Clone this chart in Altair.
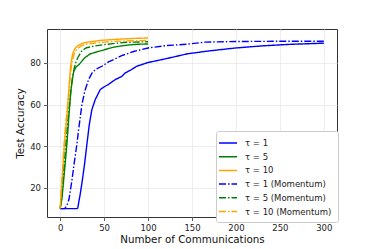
import altair as alt
import pandas as pd

labels = ["τ = 1", "τ = 5", "τ = 10",
          "τ = 1 (Momentum)", "τ = 5 (Momentum)", "τ = 10 (Momentum)"]
colors = ["#0000ff", "#008000", "#ffa500", "#0000ff", "#008000", "#ffa500"]
dashes = [[1, 0], [1, 0], [1, 0], [7, 2, 1.5, 2], [7, 2, 1.5, 2], [7, 2, 1.5, 2]]

# tau = 1
x_t1 = [0, 19, 20, 22.8, 25, 27.7, 30.4, 33, 36, 40, 45.6, 50, 55, 62.7, 70, 74, 80, 87,
        100, 120, 145, 170, 200, 230, 260, 300]
y_t1 = [10, 10, 10.3, 17, 23, 31.3, 40.9, 50, 57.5, 62.5, 67.2, 68.5, 69.7, 72, 73.5, 75.2,
        76.5, 78.4, 80.2, 82, 84.4, 85.8, 87.2, 88.2, 88.9, 89.5]
# tau = 5
x_t5 = [0, 2, 4, 6, 8, 10, 12, 14, 15.5, 18, 22, 28, 34, 40, 50, 60, 70, 80, 90, 100]
y_t5 = [10, 15, 24, 33, 43, 55, 66, 72.5, 76, 78, 79.5, 82.5, 84.3, 85.1, 86.3, 87.5, 88.2,
        88.7, 89, 89.1]
# tau = 10
x_t10 = [0, 2, 4, 6, 8, 10, 11, 12, 14, 16, 18, 20, 24, 30, 36, 45, 55, 70, 85, 100]
y_t10 = [10, 22, 36, 47, 56, 68, 74, 79, 84, 86.3, 87.5, 88.3, 89.2, 89.9, 90.3, 90.8, 91.1,
         91.5, 91.8, 92]
# tau = 1 (Momentum)
x_m1 = [0, 5, 7.6, 10, 13.3, 16, 19, 21, 24.7, 28, 32.3, 36, 40, 47.5, 55, 60.8, 70, 83.6,
        100, 120, 144, 165, 200, 250, 300]
y_m1 = [10, 10, 11.4, 14.5, 23.4, 32, 40.9, 48, 60, 66.5, 72, 75, 76.8, 78.4, 80.5, 81.6,
        83.5, 85.5, 87.2, 88.3, 89, 90, 90.3, 90.4, 90.4]
# tau = 5 (Momentum)
x_m5 = [0, 2, 4, 6, 8, 10, 12, 14, 16, 18, 20, 25, 30, 40, 50, 60, 75, 100]
y_m5 = [10, 16, 27, 38, 48, 57, 66, 73, 77.5, 80.5, 82.5, 86, 87.3, 88.2, 88.8, 89.3, 89.9,
        90.2]
# tau = 10 (Momentum)
x_m10 = [0, 2, 4, 6, 8, 10, 12, 14, 16, 18, 20, 24, 30, 40, 50, 60, 75, 100]
y_m10 = [10, 24, 38, 49, 58, 67, 76, 81.5, 84.5, 86, 87, 88.2, 89, 89.6, 90, 90.3, 90.6,
         90.8]

series = [(labels[0], x_t1, y_t1), (labels[1], x_t5, y_t5), (labels[2], x_t10, y_t10),
          (labels[3], x_m1, y_m1), (labels[4], x_m5, y_m5), (labels[5], x_m10, y_m10)]
rows = []
for order, (name, xs, ys) in enumerate(series):
    for i, (xv, yv) in enumerate(zip(xs, ys)):
        rows.append({"series": name, "comm": xv, "acc": yv, "order": order, "i": i})
df = pd.DataFrame(rows)

FONT = "DejaVu Sans"
leg = alt.Legend(title=None, orient="none", legendX=169, legendY=102,
                 symbolType="M-1.8,0H1.8", symbolSize=100, symbolStrokeWidth=1.5,
                 labelFont=FONT, labelFontSize=8.5, labelColor="#222",
                 labelOffset=11, padding=6, rowPadding=2.7,
                 strokeColor="#cccccc", fillColor="white", cornerRadius=2)

chart = alt.Chart(df).mark_line(strokeWidth=1.4).encode(
    x=alt.X("comm:Q", scale=alt.Scale(domain=[-15, 315], nice=False, zero=False),
            axis=alt.Axis(values=[0, 50, 100, 150, 200, 250, 300], title="Number of Communications",
                          titlePadding=2)),
    y=alt.Y("acc:Q", scale=alt.Scale(domain=[6, 96.3], nice=False, zero=False),
            axis=alt.Axis(values=[20, 40, 60, 80], title="Test Accuracy", titlePadding=4)),
    color=alt.Color("series:N", scale=alt.Scale(domain=labels, range=colors), legend=leg),
    strokeDash=alt.StrokeDash("series:N", scale=alt.Scale(domain=labels, range=dashes), legend=leg),
    detail="series:N",
    order="i:Q",
).properties(
    width=290, height=188,
    background="white",
    autosize=alt.AutoSizeParams(type="none"),
    padding={"left": 39, "top": 21, "right": 29, "bottom": 32},
).configure_view(
    stroke="#333333", strokeWidth=1
).configure_axis(
    domain=False, grid=True, gridColor="#e8e8e8", gridWidth=0.8,
    tickColor="#333333", tickSize=3.5, tickWidth=0.8,
    labelFont=FONT, labelFontSize=8.5, labelColor="#222", labelPadding=3,
    titleFont=FONT, titleFontSize=10.3, titleFontWeight="normal", titleColor="#111",
)

chart.save("out.html", embed_options={"renderer": "svg", "actions": False})
